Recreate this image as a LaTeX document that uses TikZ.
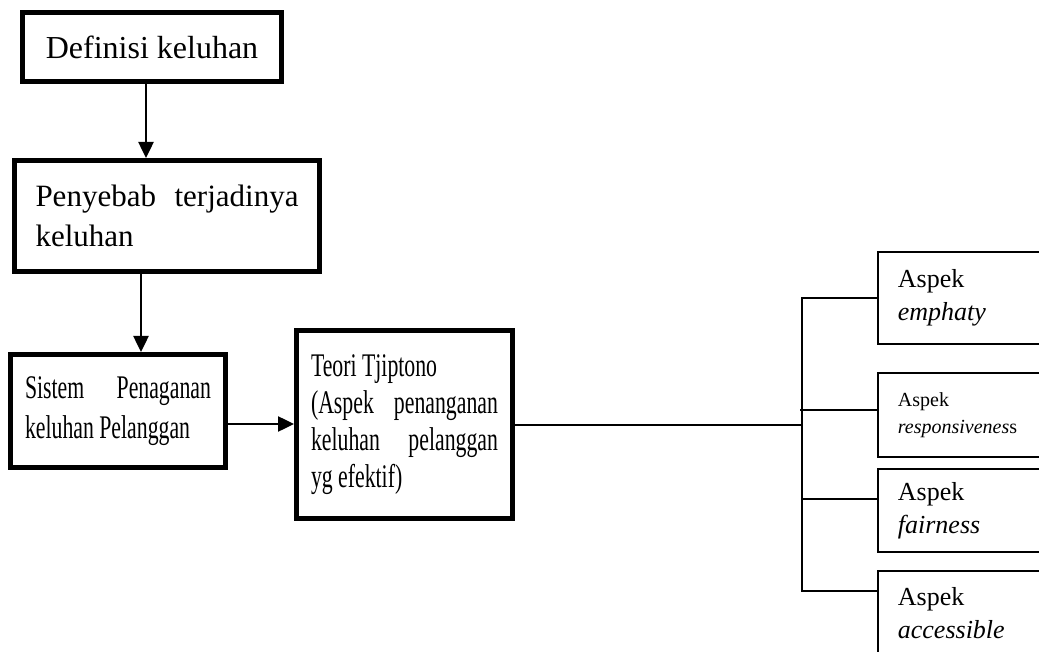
\documentclass[tikz,border=0pt]{standalone}
\usepackage{fontspec}
\setmainfont{Liberation Serif}
\newfontfamily\narrowserif[FakeStretch=0.66]{Liberation Serif}
\usetikzlibrary{calc,arrows.meta}
\hyphenpenalty=10000
\exhyphenpenalty=10000
\tolerance=10000

\begin{document}
\begin{tikzpicture}[x=1pt,y=-1pt,
  bigbox/.style={draw,rectangle,line width=5pt,inner xsep=0pt},
  aspbox/.style={draw,rectangle,line width=1.8pt,anchor=west,minimum width=200pt,inner xsep=20pt,text width=160pt,align=left,font=\fontsize{26}{33}\selectfont},
  arr/.style={-{Triangle[length=16pt,width=15pt]},line width=2.5pt},
  link/.style={line width=2pt}]
\useasboundingbox (0,0) rectangle (1039,652);
\clip (0,0) rectangle (1039,652);

\draw node [bigbox,minimum width=259pt,minimum height=69pt,font=\fontsize{32}{38}\selectfont](def) at (152,47){Definisi keluhan};
\draw node [bigbox,minimum width=305pt,minimum height=111pt,text width=263pt,align=justify,font=\fontsize{31}{40}\selectfont](sebab) at (167,216){Penyebab terjadinya keluhan};
\draw node [bigbox,minimum width=215pt,minimum height=113pt,text width=186pt,align=justify,font=\narrowserif\fontsize{33}{40}\selectfont](sistem) at (118,411){Sistem Penaganan keluhan Pelanggan};
\draw node [bigbox,minimum width=216pt,minimum height=188pt,text width=187pt,align=justify,font=\narrowserif\fontsize{33}{37}\selectfont](teori) at (404.5,424.5){Teori Tjiptono\\(Aspek penanganan keluhan pelanggan yg efektif)};

\draw node [aspbox,minimum height=92pt](emp) at (877,298){Aspek\\\textit{emphaty}};
\draw node [aspbox,minimum height=84pt,font=\fontsize{20}{27}\selectfont](resp) at (877,415){Aspek\\\textit{responsivenes}s};
\draw node [aspbox,minimum height=83pt](fair) at (877,510.5){Aspek\\\textit{fairness}};
\draw node [aspbox,minimum height=84pt](acc) at (877,613){Aspek\\\textit{accessible}};

\coordinate (s1) at ($ (def.south)+(-6pt,0) $);
\draw[arr] (s1) -- (s1 |- sebab.north);
\coordinate (s2) at ($ (sebab.south)+(-26pt,0) $);
\draw[arr] (s2) -- (s2 |- sistem.north);
\coordinate (s3) at ($ (sistem.east)+(0,-13pt) $);
\draw[arr] (s3) -- (s3 -| teori.west);

\coordinate (fork) at (802,424.5);
\coordinate (respin) at ($ (resp.west)+(0,5pt) $);
\coordinate (fairin) at ($ (fair.west)+(0,11.5pt) $);
\coordinate (accin) at ($ (acc.west)+(0,22pt) $);
\draw[link] (teori.east) -- (fork);
\draw[link] (emp.west) -| (fork) |- (accin);
\draw[link] (respin) -- ($ (respin -| fork)+(-2pt,0) $);
\draw[link] (fairin) -- (fairin -| fork);

\end{tikzpicture}
\end{document}
